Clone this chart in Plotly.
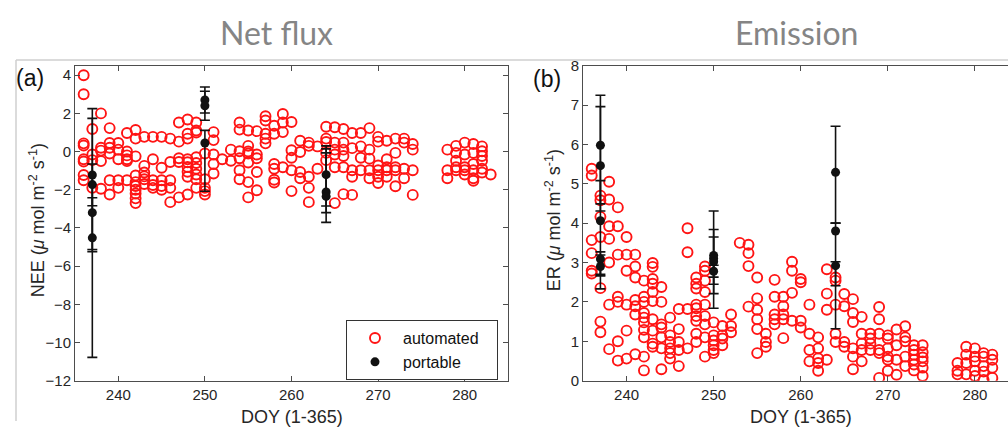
import plotly.graph_objects as go

# ---------------- data ----------------
# (a) automated chambers, NEE
auto_nee_doy = [
    236, 236, 236, 236, 236, 236, 236, 236,
    237, 237, 237, 237,
    238, 238, 238, 238, 238,
    239, 239, 239, 239, 239, 239,
    240, 240, 240, 240, 240,
    241, 241, 241, 241, 241, 241,
    242, 242, 242, 242, 242, 242, 242, 242, 242, 242,
    243, 243, 243, 243, 243, 243,
    244, 244, 244, 244, 244,
    245, 245, 245, 245, 245,
    246, 246, 246, 246, 246,
    247, 247, 247, 247, 247,
    248, 248, 248, 248, 248, 248, 248, 248, 248,
    249, 249, 249, 249, 249, 249, 249, 249, 249,
    250, 250, 250, 250, 250,
    251, 251, 251, 251, 251,
    252,
    253, 253,
    254, 254, 254, 254, 254, 254,
    255, 255, 255, 255, 255, 255, 255,
    256, 256, 256, 256, 256,
    257, 257, 257, 257, 257,
    258, 258, 258, 258, 258, 258,
    259, 259, 259, 259,
    260, 260, 260, 260, 260,
    261, 261, 261, 261,
    262, 262, 262, 262, 262,
    263, 263,
    264, 264, 264, 264, 264,
    265, 265, 265, 265, 265, 265,
    266, 266, 266, 266, 266, 266,
    267, 267, 267, 267, 267,
    268, 268, 268, 268,
    269, 269, 269, 269, 269,
    270, 270, 270, 270, 270, 270,
    271, 271, 271, 271, 271,
    272, 272, 272, 272, 272,
    273, 273, 273, 273,
    274, 274, 274, 274,
    278, 278, 278,
    279, 279, 279, 279, 279,
    280, 280, 280, 280, 280,
    281, 281, 281, 281, 281, 281,
    282, 282, 282, 282, 282, 282,
    283,
]
auto_nee = [
    4.0, 3.0, 0.43, 0.32, -0.4, -0.52, -1.23, -1.5,
    1.18, -0.15, -0.45, -1.9,
    2.0, 0.2, 0.05, -0.5, -1.95,
    1.23, 0.45, 0.2, -0.1, -1.5, -2.25,
    0.45, 0.1, -0.4, -1.5, -1.9,
    0.97, 0.0, -0.2, -0.4, -0.5, -1.5,
    1.13, 0.68, -0.25, -1.25, -1.6, -1.8, -2.0, -2.2, -2.45, -2.7,
    0.77, -0.75, -1.1, -1.3, -1.45, -1.7,
    0.77, -0.4, -1.5, -1.75, -1.9,
    0.77, -0.85, -1.5, -1.8, -2.0,
    0.68, -0.55, -1.5, -1.9, -2.65,
    1.52, 0.52, -0.35, -0.55, -2.4,
    1.68, 0.93, 0.68, -0.4, -0.56, -0.81, -1.06, -1.32, -2.25,
    1.52, 1.1, 1.0, -0.3, -0.6, -0.9, -1.2, -1.45, -1.9,
    -0.1, -1.45, -1.9, -2.07, -2.25,
    1.02, 0.6, -0.15, -0.65, -1.15,
    -0.4,
    0.1, -0.48,
    1.52, 1.15, 0.02, -0.35, -0.98, -1.45,
    1.1, 0.3, 0.0, -0.1, -0.57, -1.6, -2.4,
    1.07, -0.15, -0.35, -1.07, -2.03,
    1.85, 1.63, 0.93, 0.68, 0.43,
    1.35, 0.93, -0.65, -0.9, -1.48, -1.62,
    1.97, 1.52, 1.02, -0.82,
    1.55, 0.07, -0.32, -0.98, -2.07,
    0.57, -0.02, -1.07, -1.4,
    0.47, 0.3, -1.32, -1.9, -2.65,
    0.27, -0.9,
    1.3, 0.68, 0.5, -0.07, -0.45,
    1.27, 0.47, 0.1, -0.15, -0.82, -2.7,
    1.18, 0.47, 0.1, -0.23, -0.82, -2.23,
    0.97, 0.18, -0.98, -1.32, -2.27,
    0.97, 0.27, -0.32, -0.98,
    1.23, 0.1, -0.37, -0.98, -1.4,
    0.77, 0.52, -0.73, -0.98, -1.32, -1.65,
    0.57, -0.4, -0.82, -0.98, -1.32,
    0.68, -0.07, -0.82, -0.98, -1.82,
    0.68, 0.47, -0.9, -1.4,
    0.4, 0.1, -0.98, -2.27,
    0.1, -0.98, -1.4,
    0.3, -0.07, -0.48, -0.82, -0.98,
    0.47, -0.15, -0.82, -0.98, -1.2,
    0.4, -0.07, -0.65, -0.98, -1.4, -1.53,
    0.27, 0.02, -0.23, -0.48, -0.9, -1.1,
    -1.2,
]

# (a) portable chamber, NEE (mean with error bar)
port_nee_doy = [237, 237, 237, 237, 250, 250, 250, 264, 264, 264]
port_nee = [-1.23, -1.73, -3.2, -4.52, 2.7, 2.4, 0.45, -1.21, -2.12, -2.35]
port_nee_err_plus = [3.48, 1.08, 0.78, 6.26, 0.68, 0.76, 0.66, 1.51, 2.26, 2.28]
port_nee_err_minus = [3.9, 1.11, 2.04, 6.26, 0.68, 0.76, 2.53, 1.99, 1.59, 0.5]

# (b) automated chambers, ER
auto_er_doy = [
    236, 236, 236, 236, 236, 236,
    237, 237, 237, 237, 237, 237, 237,
    238, 238, 238, 238, 238, 238, 238,
    239, 239, 239, 239, 239, 239, 239,
    240, 240, 240, 240, 240, 240,
    241, 241, 241, 241, 241, 241, 241,
    242, 242, 242, 242, 242, 242, 242, 242, 242, 242,
    243, 243, 243, 243, 243, 243, 243, 243, 243, 243,
    244, 244, 244, 244, 244, 244, 244,
    245, 245, 245, 245, 245, 245,
    246, 246, 246, 246, 246,
    247, 247, 247, 247,
    248, 248, 248, 248, 248, 248, 248, 248, 248,
    249, 249, 249, 249, 249, 249, 249, 249, 249,
    250, 250, 250, 250, 250, 250,
    251, 251, 251, 251,
    252, 252, 252,
    253,
    254, 254, 254, 254,
    255, 255, 255, 255, 255, 255,
    256, 256, 256,
    257, 257, 257, 257, 257,
    258, 258, 258, 258, 258,
    259, 259, 259, 259,
    260, 260, 260, 260,
    261, 261, 261, 261,
    262, 262, 262, 262, 262,
    263, 263, 263, 263,
    264, 264, 264, 264, 264,
    265, 265, 265, 265,
    266, 266, 266, 266, 266, 266,
    267, 267, 267, 267, 267,
    268, 268, 268, 268,
    269, 269, 269, 269, 269, 269,
    270, 270, 270, 270, 270, 270,
    271, 271, 271, 271,
    272, 272, 272, 272, 272,
    273, 273, 273, 273, 273, 273,
    274, 274, 274, 274, 274, 274,
    278, 278, 278,
    279, 279, 279, 279,
    280, 280, 280, 280, 280,
    281, 281, 281, 281, 281,
    282, 282, 282, 282,
]
auto_er = [
    5.38, 5.21, 3.57, 3.24, 2.79, 2.72,
    4.7, 4.58, 4.16, 3.65, 2.35, 1.5, 1.23,
    5.05, 4.6, 3.92, 3.6, 3.0, 1.93, 0.8,
    4.4, 3.92, 3.2, 2.13, 2.0, 1.0, 0.51,
    3.65, 3.2, 2.79, 1.93, 1.27, 0.56,
    3.2, 2.9, 2.62, 2.05, 1.89, 1.68, 0.67,
    2.54, 2.13, 2.0, 1.72, 1.6, 1.48, 1.29, 1.1, 0.61, 0.26,
    2.99, 2.89, 2.58, 2.46, 2.25, 2.02, 1.56, 1.27, 0.94, 0.86,
    2.38, 2.0, 1.43, 1.35, 1.1, 0.82, 0.29,
    1.6, 1.15, 0.98, 0.82, 0.7, 0.56,
    1.82, 1.31, 0.98, 0.78, 0.37,
    3.87, 3.26, 1.82, 0.82,
    2.62, 2.46, 2.34, 1.93, 1.84, 1.64, 1.52, 1.19, 0.98,
    2.9, 2.79, 2.54, 2.25, 1.93, 1.64, 1.43, 1.1, 0.61,
    1.48, 1.15, 1.02, 0.9, 0.78, 0.7,
    1.39, 1.15, 1.07, 0.9,
    1.68, 1.39, 1.23,
    3.5,
    3.45, 3.24, 2.91, 1.88,
    2.62, 2.09, 1.8, 1.56, 1.31, 0.7,
    1.19, 0.98, 0.86,
    2.56, 2.13, 1.68, 1.56, 1.43,
    2.13, 1.89, 1.68, 1.56, 1.08,
    3.02, 2.79, 2.23, 1.52,
    2.58, 2.5, 1.52, 1.35,
    1.93, 1.19, 0.78, 0.49,
    1.1, 0.82, 0.57, 0.45, 0.25,
    2.83, 2.21, 1.8, 0.53,
    2.62, 2.54, 1.93, 1.19, 0.98,
    2.2, 1.89, 0.98, 0.86,
    2.07, 1.72, 1.49, 0.82, 0.61, 0.29,
    1.62, 1.19, 0.94, 0.78, 0.49,
    1.19, 1.07, 0.94, 0.78,
    1.87, 1.56, 1.19, 0.78, 0.7, 0.07,
    1.15, 1.07, 0.82, 0.61, 0.53, 0.25,
    1.3, 0.9, 0.53, 0.15,
    1.38, 1.1, 1.0, 0.61, 0.37,
    0.9, 0.78, 0.66, 0.53, 0.41, 0.26,
    0.9, 0.72, 0.59, 0.49, 0.33, 0.12,
    0.45, 0.25, 0.16,
    0.86, 0.66, 0.45, 0.16,
    0.82, 0.61, 0.49, 0.25, 0.12,
    0.7, 0.61, 0.37, 0.23, 0.02,
    0.66, 0.53, 0.33, 0.07,
]

# (b) portable chamber, ER
port_er_doy = [237, 237, 237, 237, 237, 250, 250, 250, 250, 264, 264, 264]
port_er = [5.98, 5.46, 4.06, 3.09, 2.90, 3.18, 3.10, 3.02, 2.78, 5.29, 3.80, 2.92]
port_er_err_plus = [1.27, 1.50, 1.02, 0.18, 0.29, 1.13, 0.74, 0.63, 0.15, 1.17, 0.20, 0.10]
port_er_err_minus = [1.49, 1.15, 1.73, 0.43, 0.20, 1.34, 0.89, 0.57, 0.15, 1.29, 1.39, 1.60]

x_ticks = [240, 250, 260, 270, 280]
nee_ticks = [-12, -10, -8, -6, -4, -2, 0, 2, 4]
er_ticks = [0, 1, 2, 3, 4, 5, 6, 7, 8]

assert len(auto_nee_doy) == len(auto_nee)
assert len(auto_er_doy) == len(auto_er)

# ---------------- figure ----------------
W, H = 1008, 429
RED = "#ff1414"
AX = "#4d4d4d"
TXT = "#262626"
SANS = "Liberation Sans, Arial, sans-serif"
TICKFONT = dict(family=SANS, size=15, color=TXT)
NBSP = "\u00a0"


def px(x):
    return x / W


def py(y):
    return (H - y) / H


fig = go.Figure()

fig.add_trace(go.Scatter(
    x=auto_nee_doy, y=auto_nee, mode="markers", name="automated" + NBSP * 3,
    marker=dict(symbol="circle-open", size=10, color=RED, line=dict(width=1.9, color=RED)),
    xaxis="x", yaxis="y", showlegend=True,
))
fig.add_trace(go.Scatter(
    x=port_nee_doy, y=port_nee, mode="markers", name="portable",
    marker=dict(symbol="circle", size=9, color="#111111"),
    error_y=dict(type="data", symmetric=False, array=port_nee_err_plus,
                 arrayminus=port_nee_err_minus, color="#111111", thickness=1.6, width=5),
    xaxis="x", yaxis="y", showlegend=True,
))
fig.add_trace(go.Scatter(
    x=auto_er_doy, y=auto_er, mode="markers", name="automated",
    marker=dict(symbol="circle-open", size=10, color=RED, line=dict(width=1.9, color=RED)),
    xaxis="x2", yaxis="y2", showlegend=False,
))
fig.add_trace(go.Scatter(
    x=port_er_doy, y=port_er, mode="markers", name="portable",
    marker=dict(symbol="circle", size=9, color="#111111"),
    error_y=dict(type="data", symmetric=False, array=port_er_err_plus,
                 arrayminus=port_er_err_minus, color="#111111", thickness=1.6, width=5),
    xaxis="x2", yaxis="y2", showlegend=False,
))

ydom = [py(387), py(59)]
common_x = dict(tickvals=x_ticks, ticks="inside", ticklen=5, tickcolor=AX,
                showline=True, linecolor=AX, linewidth=1, showgrid=False,
                zeroline=False, tickfont=TICKFONT)
common_y = dict(ticks="inside", ticklen=5, tickcolor=AX, showline=True,
                linecolor=AX, linewidth=1, showgrid=False, zeroline=False,
                tickfont=TICKFONT)

fig.update_layout(
    width=W, height=H,
    margin=dict(l=0, r=0, t=0, b=0),
    paper_bgcolor="white", plot_bgcolor="white",
    xaxis=dict(domain=[px(75), px(508)], range=[235, 285], anchor="y",
               mirror="ticks", **common_x),
    yaxis=dict(domain=ydom, range=[-12, 4.5], tickvals=nee_ticks, anchor="x",
               mirror="ticks", **common_y),
    xaxis2=dict(domain=[px(583), 1.0], range=[235, 283.8], anchor="y2",
                mirror="ticks", **common_x),
    yaxis2=dict(domain=ydom, range=[0, 8], tickvals=er_ticks, anchor="x2",
                mirror=False, **common_y),
    legend=dict(x=px(498), y=py(324), xanchor="right", yanchor="top",
                bgcolor="white", bordercolor="#333333", borderwidth=1,
                font=dict(family=SANS, size=16, color="#111111"),
                itemwidth=46, tracegroupgap=0),
    showlegend=True,
)

# slide frame lines
fig.add_shape(type="line", xref="paper", yref="paper", x0=px(16), x1=1.0,
              y0=py(53), y1=py(53), line=dict(color="#cfcfcf", width=1.5))
fig.add_shape(type="line", xref="paper", yref="paper", x0=px(16), x1=px(16),
              y0=py(53), y1=0, line=dict(color="#cfcfcf", width=1.5))

annots = [
    dict(text="Net flux", x=px(276), y=py(24), yanchor="middle",
         font=dict(family="Lato, sans-serif", size=32, color="#858585")),
    dict(text="Emission", x=px(796), y=py(24), yanchor="middle",
         font=dict(family="Lato, sans-serif", size=32, color="#858585")),
    dict(text="(a)", x=px(30), y=py(72), yanchor="middle",
         font=dict(family=SANS, size=23, color="#111111")),
    dict(text="(b)", x=px(547), y=py(73), yanchor="middle",
         font=dict(family=SANS, size=23, color="#111111")),
    dict(text="DOY (1-365)", x=px(292), y=py(425), yanchor="middle",
         font=dict(family=SANS, size=18, color=TXT)),
    dict(text="DOY (1-365)", x=px(801), y=py(425), yanchor="middle",
         font=dict(family=SANS, size=18, color=TXT)),
    dict(text="NEE (<i>μ</i> mol m<sup>-2</sup> s<sup>-1</sup>)", x=px(37), y=py(220),
         yanchor="middle", textangle=-90, font=dict(family=SANS, size=18, color=TXT)),
    dict(text="ER (<i>μ</i> mol m<sup>-2</sup> s<sup>-1</sup>)", x=px(553), y=py(220),
         yanchor="middle", textangle=-90, font=dict(family=SANS, size=18, color=TXT)),
]
for a in annots:
    fig.add_annotation(xref="paper", yref="paper", showarrow=False,
                       xanchor="center", **a)

fig.write_html("out.html")
